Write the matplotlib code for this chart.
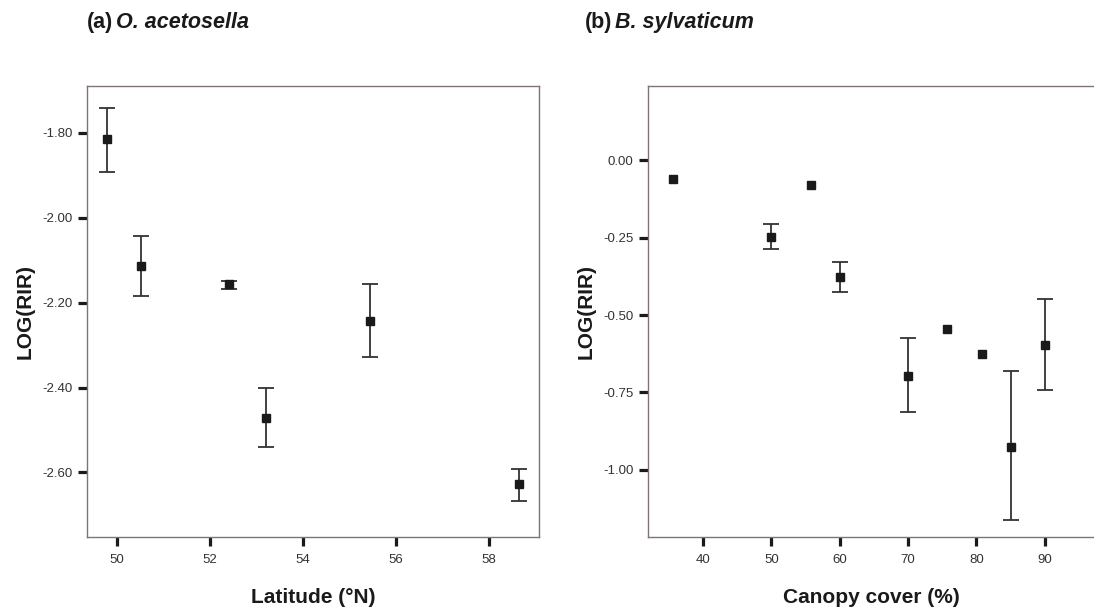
import matplotlib
matplotlib.use('Agg')
import matplotlib.pyplot as plt

plt.rcParams['font.family'] = ['Liberation Sans', 'DejaVu Sans']
plt.rcParams['axes.unicode_minus'] = False

# (a) O. acetosella: latitude vs LOG(RIR), mean with error bar limits
lat = [49.79, 50.52, 52.41, 53.20, 55.43, 58.63]
lat_mean = [-1.814, -2.113, -2.157, -2.471, -2.244, -2.626]
lat_upper = [-1.741, -2.044, -2.149, -2.402, -2.156, -2.591]
lat_lower = [-1.892, -2.185, -2.167, -2.539, -2.327, -2.668]

# (b) B. sylvaticum: canopy cover vs LOG(RIR); None = no error bar
canopy = [35.6, 50.0, 55.75, 60.0, 70.0, 75.7, 80.8, 85.0, 90.0]
can_mean = [-0.061, -0.248, -0.081, -0.376, -0.696, -0.545, -0.625, -0.925, -0.597]
can_upper = [None, -0.205, None, -0.328, -0.575, None, None, -0.681, -0.448]
can_lower = [None, -0.287, None, -0.424, -0.813, None, None, -1.161, -0.741]

lat_ticks = [50, 52, 54, 56, 58]
lat_yticks = [-1.80, -2.00, -2.20, -2.40, -2.60]
can_ticks = [40, 50, 60, 70, 80, 90]
can_yticks = [0.00, -0.25, -0.50, -0.75, -1.00]

spine_col = '#7f7373'
err_col = '#333333'

fig = plt.figure(figsize=(10.94, 6.12), dpi=100)
ax1 = fig.add_axes([0.0795, 0.1225, 0.4132, 0.737])
ax2 = fig.add_axes([0.5926, 0.1225, 0.4074, 0.737])


def draw_points(ax, x, mean, upper, lower):
    for xi, m, u, l in zip(x, mean, upper, lower):
        if u is not None:
            ax.errorbar([xi], [m], yerr=[[m - l], [u - m]], fmt='none',
                        ecolor=err_col, elinewidth=1.3, capsize=5.5, capthick=1.3)
    ax.plot(x, mean, 's', color='#1a1a1a', markersize=6, zorder=3)


def style(ax):
    for s in ax.spines.values():
        s.set_color(spine_col)
        s.set_linewidth(1.0)
    ax.tick_params(direction='out', length=6.5, width=2.3, color='#1a1a1a',
                   labelsize=9.5, labelcolor='#333333', pad=4)
    ax.tick_params(axis='x', pad=6)


draw_points(ax1, lat, lat_mean, lat_upper, lat_lower)
ax1.set_xlim(49.36, 59.07)
ax1.set_ylim(-2.752, -1.69)
ax1.set_xticks(lat_ticks)
ax1.set_xticklabels([str(t) for t in lat_ticks])
ax1.set_yticks(lat_yticks)
ax1.set_yticklabels([f'{t:.2f}' for t in lat_yticks])
style(ax1)
ax1.set_xlabel('Latitude (°N)', fontsize=15, fontweight='bold', color='#1a1a1a')
ax1.set_ylabel('LOG(RIR)', fontsize=15, fontweight='bold', color='#1a1a1a')
ax1.xaxis.set_label_coords(0.5, -0.112)
ax1.yaxis.set_label_coords(-0.115, 0.5)

draw_points(ax2, canopy, can_mean, can_upper, can_lower)
ax2.set_xlim(32.0, 97.2)
ax2.set_ylim(-1.217, 0.240)
ax2.set_xticks(can_ticks)
ax2.set_xticklabels([str(t) for t in can_ticks])
ax2.set_yticks(can_yticks)
ax2.set_yticklabels([f'{t:.2f}' for t in can_yticks])
style(ax2)
ax2.spines['right'].set_visible(False)
ax2.set_xlabel('Canopy cover (%)', fontsize=15, fontweight='bold', color='#1a1a1a')
ax2.set_ylabel('LOG(RIR)', fontsize=15, fontweight='bold', color='#1a1a1a')
ax2.xaxis.set_label_coords(0.5, -0.112)
ax2.yaxis.set_label_coords(-0.119, 0.5)

# panel titles: bold letter + bold italic species name
for fx, letter, name in [(0.0795, '(a)', 'O. acetosella'), (0.535, '(b)', 'B. sylvaticum')]:
    t = fig.text(fx, 0.964, letter, fontsize=15.5, fontweight='bold',
                 color='#1a1a1a', va='center', ha='left')
    fig.add_artist(plt.Annotation(name, xy=(1, 0.5), xycoords=t, xytext=(2, 0),
                                  textcoords='offset points', fontsize=15.5,
                                  fontweight='bold', fontstyle='italic',
                                  color='#1a1a1a', va='center', ha='left',
                                  annotation_clip=False))

fig.savefig('out.png', dpi=100)
